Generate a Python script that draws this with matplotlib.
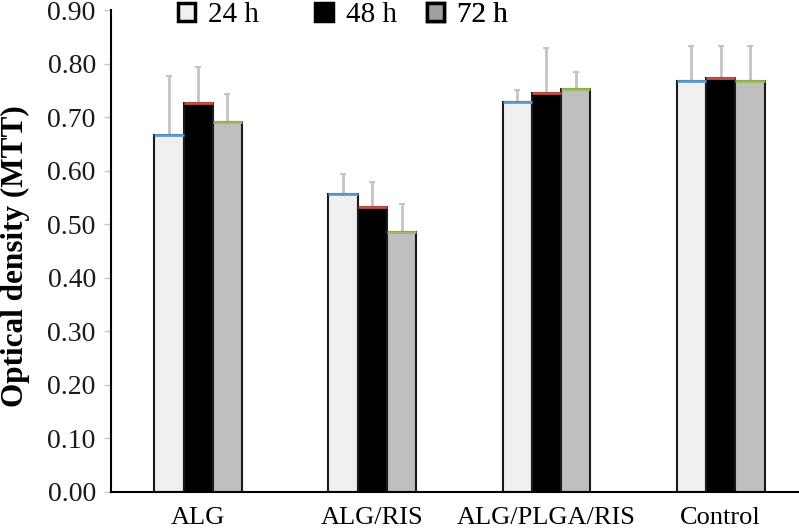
import numpy as np
import matplotlib
matplotlib.use("Agg")
import matplotlib.pyplot as plt
from matplotlib.patches import Patch

plt.rcParams['font.family'] = ['Liberation Serif', 'DejaVu Serif']

groups = ["ALG", "ALG/RIS", "ALG/PLGA/RIS", "Control"]
series = ["24 h", "48 h", "72 h"]
od_24h = [0.666, 0.556, 0.728, 0.767]
od_48h = [0.726, 0.532, 0.745, 0.773]
od_72h = [0.691, 0.485, 0.752, 0.767]
sd_24h = [0.111, 0.037, 0.022, 0.066]
sd_48h = [0.067, 0.047, 0.084, 0.060]
sd_72h = [0.052, 0.052, 0.032, 0.066]

face_colors = ["#f0f0f0", "#000000", "#bfbfbf"]
top_colors = ["#5b9bd5", "#c0504d", "#9bbb59"]
legend_faces = ["#f0f0f0", "#000000", "#a0a0a0"]
legend_x = [0.097, 0.297, 0.459]

fig = plt.figure(figsize=(7.99, 5.32), dpi=100)
ax = fig.add_axes([0.139, 0.0761, 0.861, 0.905])

x = np.arange(len(groups))
w = 0.168
values = [od_24h, od_48h, od_72h]
sds = [sd_24h, sd_48h, sd_72h]
for i in range(3):
    pos = x + (i - 1) * w
    ax.errorbar(pos, values[i], yerr=[np.zeros(len(groups)), sds[i]], fmt='none',
                ecolor="#c4c4c4", elinewidth=2, capsize=2.5, capthick=1.5, zorder=1)
    ax.bar(pos, values[i], width=w, color=face_colors[i], edgecolor="#1a1a1a",
           linewidth=1.5, zorder=2)
    ax.hlines(values[i], pos - w / 2, pos + w / 2, colors=top_colors[i], lw=2, zorder=3)

ax.set_xlim(-0.5, 3.45)
ax.set_ylim(0, 0.9)
ax.set_yticks(np.arange(0, 0.91, 0.1))
ax.set_yticklabels(["%.2f" % v for v in np.arange(0, 0.91, 0.1)], fontsize=20, color="#1a1a1a")
ax.set_xticks(x)
ax.set_xticklabels(groups, fontsize=19)
ax.tick_params(axis='x', length=0, pad=11)
ax.tick_params(axis='y', direction='out', length=5, width=1, color="#c8c8c8", pad=6)
for s in ["top", "right"]:
    ax.spines[s].set_visible(False)
ax.spines["left"].set_linewidth(1.5)
ax.spines["bottom"].set_linewidth(1.5)
ax.set_ylabel("Optical density (MTT)", fontsize=22.5, fontweight="bold", va="center")
ax.yaxis.set_label_coords(-0.139, 0.489)

for i in range(3):
    h = Patch(facecolor=legend_faces[i], edgecolor="black", linewidth=2.5)
    leg = ax.legend([h], [series[i]], loc='upper left', bbox_to_anchor=(legend_x[i], 1.016),
                    frameon=False, fontsize=21, handlelength=0.6, handleheight=0.6,
                    handletextpad=0.45, borderpad=0, borderaxespad=0)
    ax.add_artist(leg)

fig.savefig("out.png", dpi=100)
